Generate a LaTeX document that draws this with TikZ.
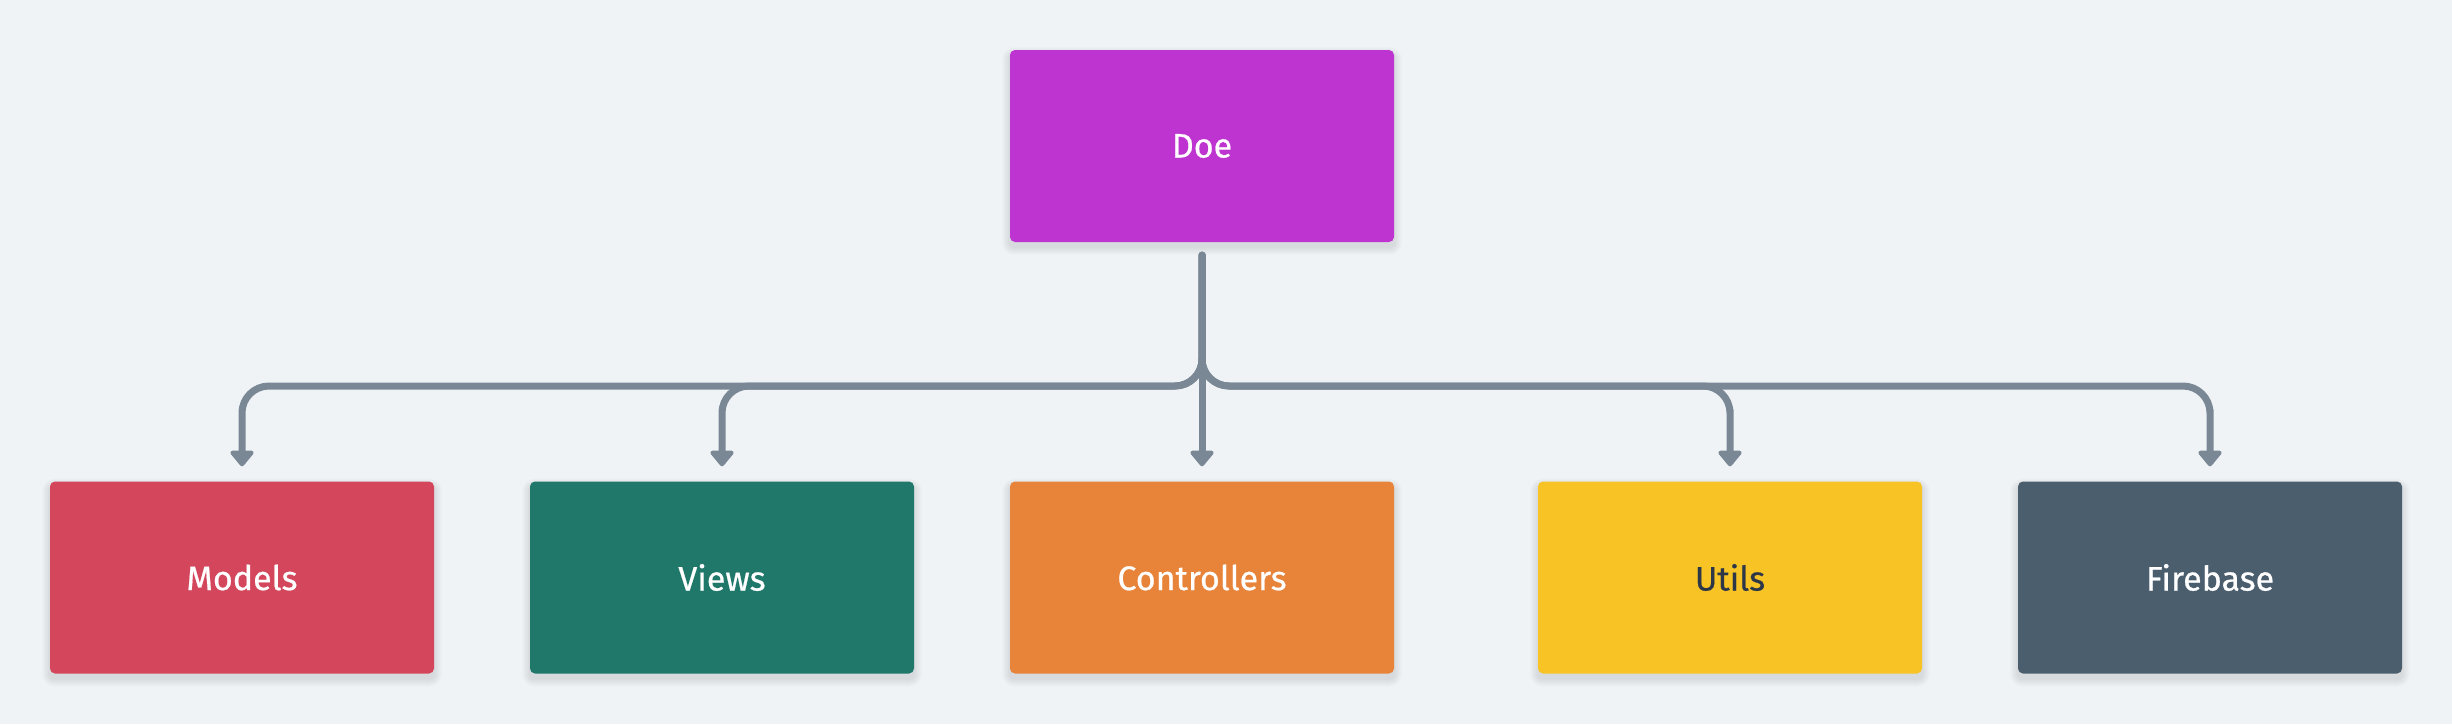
\documentclass[tikz,border=0pt]{standalone}
\usepackage{fontspec}
\setmainfont{Fira Sans}[FakeBold=0.6]
\usetikzlibrary{arrows.meta,calc}
\definecolor{bg}{HTML}{EFF3F6}
\definecolor{conncol}{HTML}{7A8896}
\definecolor{doecol}{HTML}{BE34D0}
\definecolor{modelscol}{HTML}{D3465B}
\definecolor{viewscol}{HTML}{20786A}
\definecolor{ctrlcol}{HTML}{E8833A}
\definecolor{utilscol}{HTML}{F7C325}
\definecolor{firecol}{HTML}{4B5E6E}
\definecolor{darktext}{HTML}{2D3748}
\pgfdeclarelayer{bglayer}
\pgfdeclarelayer{shadowlayer}
\pgfsetlayers{bglayer,shadowlayer,main}
\begin{document}
\begin{tikzpicture}[x=1pt,y=-1pt,
  box/.style={rounded corners=5pt, minimum width=384pt, minimum height=192pt,
    inner sep=0pt, font=\fontsize{34}{40}\selectfont, text=white},
  conn/.style={draw=conncol, line width=7pt, line cap=round,
    -{Triangle[width=27pt,length=17pt,round]}}]
\begin{pgfonlayer}{bglayer}
\fill[bg] (0,0) rectangle (2452,724);
\end{pgfonlayer}
\useasboundingbox (0,0) rectangle (2452,724);
\node[box, fill=doecol] (doe) at (1202,146) {Doe};
\node[box, fill=modelscol] (models) at (242,577.5) {Models};
\node[box, fill=viewscol] (views) at (722,577.5) {Views};
\node[box, fill=ctrlcol] (ctrl) at (1202,577.5) {Controllers};
\node[box, fill=utilscol, text=darktext] (utils) at (1730,577.5) {Utils};
\node[box, fill=firecol] (fire) at (2210,577.5) {Firebase};
\begin{pgfonlayer}{shadowlayer}
\foreach \n in {doe,models,views,ctrl,utils,fire}{
  \foreach \r in {1,...,8}{
    \fill[black, fill opacity=0.012, rounded corners=5pt+\r pt]
      ($(\n.north west)+(-\r,-\r+5)$) rectangle ($(\n.south east)+(\r,\r+5)$);
  }
}
\end{pgfonlayer}
\coordinate (top) at ($(doe.south)+(0,13)$);
\coordinate (junc) at (top |- 0,386);
\foreach \n in {models,views,utils,fire}{
  \draw[conn] (top) [rounded corners=27pt] -- (junc) -| ($(\n.north)+(0,-45)$)
    [sharp corners] -- ($(\n.north)+(0,-15)$);
}
\draw[conn] (top) -- ($(ctrl.north)+(0,-15)$);
\end{tikzpicture}
\end{document}
